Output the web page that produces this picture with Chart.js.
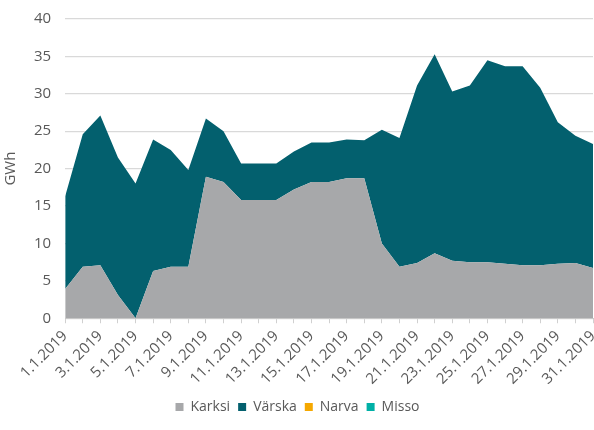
<!DOCTYPE html>
<html>
<head>
<meta charset="utf-8">
<script src="https://cdn.jsdelivr.net/npm/chart.js@4"></script>
<style>
  html, body { margin: 0; padding: 0; background: #fff; }
  #wrap { width: 594px; height: 430px; }
</style>
</head>
<body>
<div id="wrap"><canvas id="chart" width="594" height="430"></canvas></div>
<script>
// Days of January 2019
const days = [];
for (let d = 1; d <= 31; d++) days.push(d + '.1.2019');

// Daily production, GWh
const karksi = [3.9, 6.9, 7.1, 3.1, 0, 6.3, 6.9, 6.9, 18.9, 18.2, 15.8, 15.8, 15.8, 17.2, 18.2, 18.2,
  18.7, 18.7, 10.0, 6.9, 7.4, 8.7, 7.7, 7.5, 7.5, 7.3, 7.1, 7.1, 7.3, 7.4, 6.7];
const varska = [12.4, 17.7, 20.0, 18.4, 18.0, 17.6, 15.6, 12.9, 7.8, 6.8, 4.9, 4.9, 4.9, 5.1, 5.3, 5.3,
  5.2, 5.1, 15.2, 17.2, 23.7, 26.6, 22.6, 23.6, 27.0, 26.4, 26.6, 23.7, 18.9, 17.0, 16.6];
const narva = new Array(31).fill(0);
const misso = new Array(31).fill(0);

const yTicks = [0, 5, 10, 15, 20, 25, 30, 35, 40];

const textColor = '#595959';
const fontFamily = '"Open Sans", "Noto Sans", sans-serif';

const ctx = document.getElementById('chart').getContext('2d');

new Chart(ctx, {
  type: 'line',
  data: {
    labels: days,
    datasets: [
      { label: 'Karksi', data: karksi, backgroundColor: '#a7a8aa', borderWidth: 0, fill: 'origin', pointRadius: 0, tension: 0 },
      { label: 'Värska', data: varska, backgroundColor: '#03606e', borderWidth: 0, fill: '-1', pointRadius: 0, tension: 0 },
      { label: 'Narva', data: narva, backgroundColor: '#f5a800', borderWidth: 0, fill: '-1', pointRadius: 0, tension: 0 },
      { label: 'Misso', data: misso, backgroundColor: '#00b0a6', borderWidth: 0, fill: '-1', pointRadius: 0, tension: 0 }
    ]
  },
  options: {
    responsive: false,
    animation: false,
    layout: { padding: { left: 2, right: 1, top: 19, bottom: 6 } },
    plugins: {
      tooltip: { enabled: false },
      legend: {
        position: 'bottom',
        labels: {
          boxWidth: 8,
          boxHeight: 8,
          padding: 8,
          color: textColor,
          font: { family: fontFamily, size: 14 }
        }
      }
    },
    scales: {
      x: {
        stacked: true,
        offset: false,
        // the last rotated label is cut at the edge, as in the original
        afterFit: function(scale) {
          scale.paddingRight = 0;
        },
        grid: {
          drawOnChartArea: false,
          drawTicks: true,
          tickLength: 5,
          color: '#d0d0d0'
        },
        border: { color: '#c8c8c8' },
        ticks: {
          autoSkip: false,
          maxRotation: 45,
          minRotation: 45,
          color: textColor,
          padding: 4,
          font: { family: fontFamily, size: 15 },
          callback: function(value, index) {
            return index % 2 === 0 ? days[index] : '';
          }
        }
      },
      y: {
        stacked: true,
        min: 0,
        max: 40,
        afterBuildTicks: function(axis) {
          axis.ticks = yTicks.map(v => ({ value: v }));
        },
        afterFit: function(scale) {
          scale.paddingTop = 0;
          scale.paddingBottom = 0;
        },
        grid: {
          color: '#d9d9d9',
          lineWidth: 1.2,
          drawTicks: false
        },
        border: { display: false },
        ticks: {
          color: textColor,
          padding: 14,
          font: { family: fontFamily, size: 15 }
        },
        title: {
          display: true,
          text: 'GWh',
          color: textColor,
          padding: 0,
          font: { family: fontFamily, size: 15 }
        }
      }
    }
  }
});
</script>
</body>
</html>
